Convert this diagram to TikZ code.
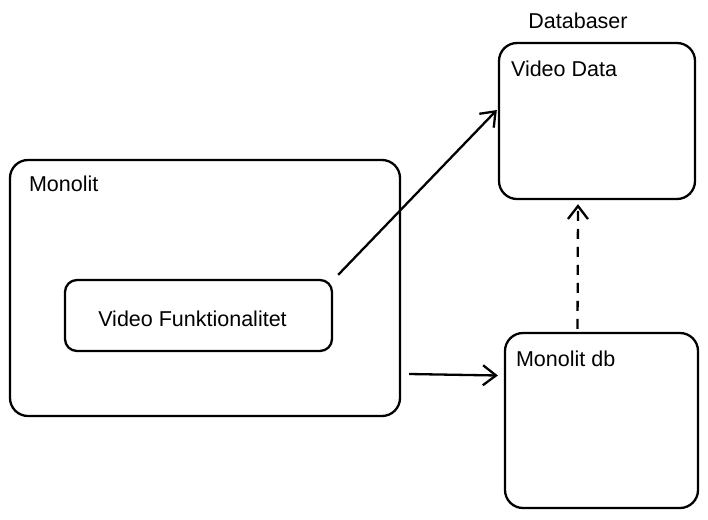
\documentclass[tikz,border=0pt]{standalone}
\usepackage{fontspec}
\setmainfont{Liberation Sans}
\usetikzlibrary{arrows.meta,positioning,calc}
\tikzset{
	box/.style ={rectangle, draw, line width=2.3pt, rounded corners=18pt, inner sep=0pt},
	lbl/.style = {inner sep=0pt, anchor=north west, font=\fontsize{21.5}{25}\selectfont},
	flow/.style = {line width=2.3pt, -{Straight Barb[length=13pt,width=20pt,line width=2.3pt]}}
}

\begin{document}
\begin{tikzpicture}[x=1pt, y=-1pt]
		\tikzstyle{dep} = [flow, dashed, dash pattern=on 10pt off 8pt]
		\useasboundingbox (0,0) rectangle (708,519);
		\path
		node[box, minimum width=390pt, minimum height=256pt] (monolit) at (205,288) {}
		node[box, rounded corners=12pt, minimum width=267pt, minimum height=71pt] (vf) at (198.5,315.5) {}
		node[box, minimum width=196pt, minimum height=156pt] (vdata) at (597,121) {}
		node[box, minimum width=193pt, minimum height=175pt] (mdb) at (601.5,420.5) {}
		node[lbl] (monolitlbl) at ([xshift=20pt,yshift=-17pt]monolit.north west) {Monolit}
		node[lbl, anchor=center] (vflbl) at ([xshift=-6pt,yshift=-3pt]vf.center) {Video Funktionalitet}
		node[lbl] (vdatalbl) at ([xshift=13pt,yshift=-19pt]vdata.north west) {Video Data}
		node[lbl] (mdblbl) at ([xshift=12pt,yshift=-19pt]mdb.north west) {Monolit db}
		node[lbl, anchor=south] (dblbl) at ([xshift=-19pt,yshift=13pt]vdata.north) {Databaser};
		% forbindelser
		\draw[flow] ([xshift=5pt,yshift=4pt]vf.north east) -- ([xshift=-1pt,yshift=11pt]vdata.west);
		\draw[flow] ([xshift=8pt,yshift=-86pt]monolit.east) -- ([xshift=-6pt,yshift=45pt]mdb.west);
		\draw[dep] ([xshift=-24pt,yshift=3pt]mdb.north) -- ([xshift=-19pt,yshift=-4pt]vdata.south);
\end{tikzpicture}
\end{document}
